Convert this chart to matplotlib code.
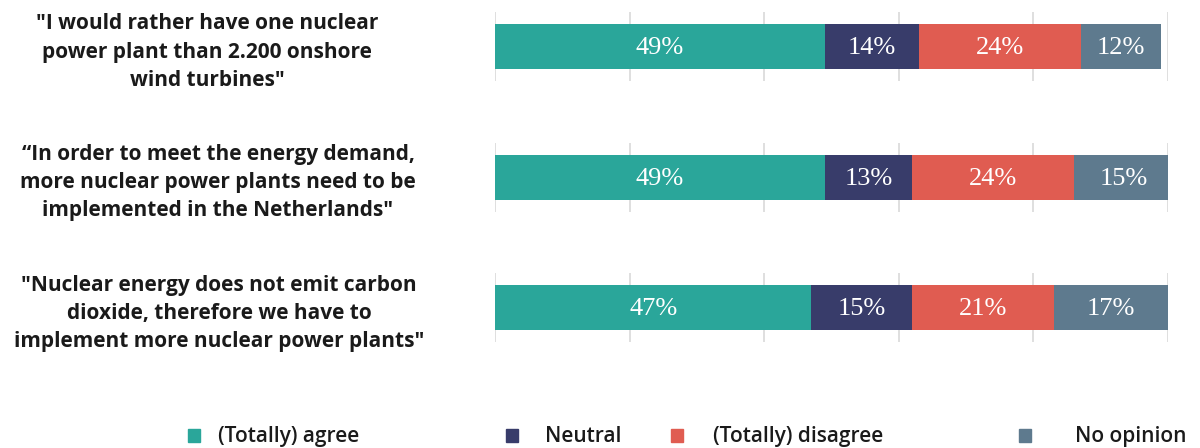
import matplotlib.pyplot as plt
from matplotlib.patches import Rectangle
from matplotlib.transforms import blended_transform_factory

statements = [
    '"I would rather have one nuclear\npower plant than 2.200 onshore\nwind turbines"',
    '\u201cIn order to meet the energy demand,\nmore nuclear power plants need to be\nimplemented in the Netherlands"',
    '"Nuclear energy does not emit carbon\ndioxide, therefore we have to\nimplement more nuclear power plants"',
]
categories = ["(Totally) agree", "Neutral", "(Totally) disagree", "No opinion"]
agree = [49, 49, 47]
neutral = [14, 13, 15]
disagree = [24, 24, 21]
no_opinion = [12, 15, 17]
colors = ["#2aa69a", "#383c6a", "#e05c51", "#5e7a8e"]


def main() -> None:
    fig = plt.figure(figsize=(12, 4.48), dpi=100)
    W, H = 1200, 448
    ax = fig.add_axes([495 / W, 1 - 344 / H, (1168 - 495) / W, (344 - 12) / H])
    ax.set_xlim(0, 100)
    ax.set_ylim(2.276, -0.268)
    ax.axis("off")

    bar_h = 0.345
    ext = 12 / 130.5
    rows = range(len(statements))
    for r in rows:
        ax.vlines(range(0, 101, 20), r - bar_h / 2 - ext, r + bar_h / 2 + ext,
                  color="#d9d9d9", lw=1.2, zorder=0)

    series = [agree, neutral, disagree, no_opinion]
    left = [0] * len(statements)
    for vals, col in zip(series, colors):
        bars = ax.barh(list(rows), vals, left=left, height=bar_h, color=col, zorder=2)
        for b, v in zip(bars, vals):
            ax.text(b.get_x() + b.get_width() / 2, b.get_y() + b.get_height() / 2 + 0.01,
                    f"{v}%", ha="center", va="center", color="white",
                    fontsize=19, family="Liberation Serif", zorder=3)
        left = [l + v for l, v in zip(left, vals)]

    tr = blended_transform_factory(fig.transFigure, ax.transData)
    centers_x = [207, 218, 219]
    for r, (txt, cx) in enumerate(zip(statements, centers_x)):
        ax.text(cx / W, r + 0.04, txt, transform=tr, ha="center", va="center",
                fontsize=15, fontweight="bold", family="Open Sans",
                linespacing=1.45, color="#1a1a1a")

    # legend laid out along the bottom
    sq_x = [188, 506, 671, 1019]
    txt_x = [218, 545, 713, 1075]
    for cat, col, sx, tx in zip(categories, colors, sq_x, txt_x):
        fig.patches.append(Rectangle((sx / W, 1 - 442 / H), 12 / W, 13 / H,
                                     transform=fig.transFigure, color=col))
        fig.text(tx / W, 1 - 436 / H, cat, ha="left", va="center",
                 fontsize=15, fontweight="semibold", family="Open Sans",
                 color="#1a1a1a")

    fig.savefig("out.png", dpi=100)


if __name__ == '__main__':
    main()
